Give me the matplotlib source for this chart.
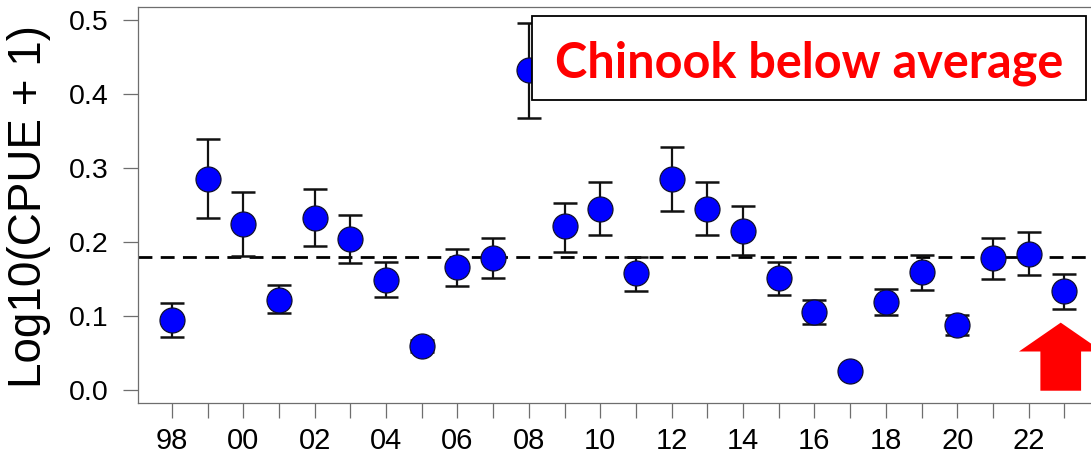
import matplotlib
matplotlib.use("Agg")
import matplotlib.pyplot as plt
from matplotlib.patches import Rectangle, Polygon

# Annual index values and 95% interval bounds
years = list(range(1998, 2024))
cpue = [0.094, 0.285, 0.224, 0.122, 0.233, 0.204, 0.149, 0.060, 0.166, 0.179,
        0.432, 0.221, 0.245, 0.158, 0.285, 0.245, 0.215, 0.152, 0.106, 0.026,
        0.119, 0.159, 0.088, 0.179, 0.184, 0.134]
upper = [0.117, 0.339, 0.268, 0.142, 0.272, 0.237, 0.173, 0.068, 0.191, 0.205,
         0.496, 0.253, 0.281, 0.180, 0.328, 0.281, 0.248, 0.173, 0.122, 0.029,
         0.137, 0.182, 0.102, 0.205, 0.213, 0.157]
lower = [0.071, 0.233, 0.181, 0.104, 0.194, 0.171, 0.126, 0.052, 0.141, 0.152,
         0.368, 0.187, 0.209, 0.134, 0.242, 0.209, 0.182, 0.128, 0.089, 0.023,
         0.101, 0.135, 0.074, 0.150, 0.155, 0.110]
mean_level = 0.18
tick_years = list(range(1998, 2023, 2))
tick_labels = [f"{y % 100:02d}" for y in tick_years]
yticks = [0.0, 0.1, 0.2, 0.3, 0.4, 0.5]
highlight_year = 2023

W, H = 1091, 458
fig = plt.figure(figsize=(W / 100, H / 100), dpi=100)
fig.patch.set_facecolor("white")

left, right, bottom, top = 138, 1100, 403, 7
ax = fig.add_axes([left / W, 1 - bottom / H, (right - left) / W, (bottom - top) / H])
ax.set_xlim(1997.05, 2024.0)
ax.set_ylim(-0.0176, 0.5176)

spine_col = "#6e6e6e"
for s in ax.spines.values():
    s.set_color(spine_col)
    s.set_linewidth(0.9)
ax.spines["right"].set_visible(False)

ax.axhline(mean_level, color="black", lw=2.0, dashes=(5, 3), zorder=1)

err_lo = [c - l for c, l in zip(cpue, lower)]
err_hi = [u - c for c, u in zip(cpue, upper)]
ax.errorbar(years, cpue, yerr=[err_lo, err_hi], fmt="none", ecolor="#111111",
            elinewidth=1.6, capsize=8.6, capthick=1.8, zorder=2)
ax.plot(years, cpue, "o", ms=18, mfc="#0000ff", mec="#101030", mew=0.9,
        zorder=3, ls="none")

ax.set_xticks(range(1998, 2024))
ax.set_xticklabels([tick_labels[tick_years.index(y)] if y in tick_years else ""
                    for y in range(1998, 2024)])
ax.set_yticks(yticks)
ax.set_yticklabels([f"{v:.1f}" for v in yticks])
ax.tick_params(axis="both", direction="out", length=11, width=0.9,
               color=spine_col, labelcolor="black")
ax.tick_params(axis="x", pad=6, labelsize=21)
ax.tick_params(axis="y", pad=10.5, labelsize=20.5)
for lab in ax.get_xticklabels() + ax.get_yticklabels():
    lab.set_fontfamily("Liberation Sans")

fig.text(29.5 / W, 1 - 207 / H, "Log10(CPUE + 1)", rotation=90,
         ha="center", va="center", fontsize=33, family="Liberation Sans")

# Annotation box
bx0, bx1 = (532 - left) / (right - left), (1086 - left) / (right - left)
by0, by1 = (bottom - 100) / (bottom - top), (bottom - 16) / (bottom - top)
ax.add_patch(Rectangle((bx0, by0), bx1 - bx0, by1 - by0, transform=ax.transAxes,
                       facecolor="white", edgecolor="black", lw=1.3, zorder=5,
                       clip_on=False))
ax.text((809 - left) / (right - left), (bottom - 77) / (bottom - top),
        "Chinook below average", transform=ax.transAxes, ha="center",
        va="baseline", color="#ff0000", fontsize=35, fontweight="bold",
        family="Lato", zorder=6)

# Arrow pointing at the latest year
hx, tip_y, base_y, foot_y = highlight_year - 0.1, 0.091, 0.052, -0.001
head_w, shaft_w = 1.17, 0.57
ax.add_patch(Polygon([(hx, tip_y), (hx + head_w, base_y), (hx + shaft_w, base_y),
                      (hx + shaft_w, foot_y), (hx - shaft_w, foot_y),
                      (hx - shaft_w, base_y), (hx - head_w, base_y)],
                     closed=True, facecolor="#ff0000", edgecolor="none",
                     zorder=4, clip_on=False))

fig.savefig("out.png", dpi=100)
